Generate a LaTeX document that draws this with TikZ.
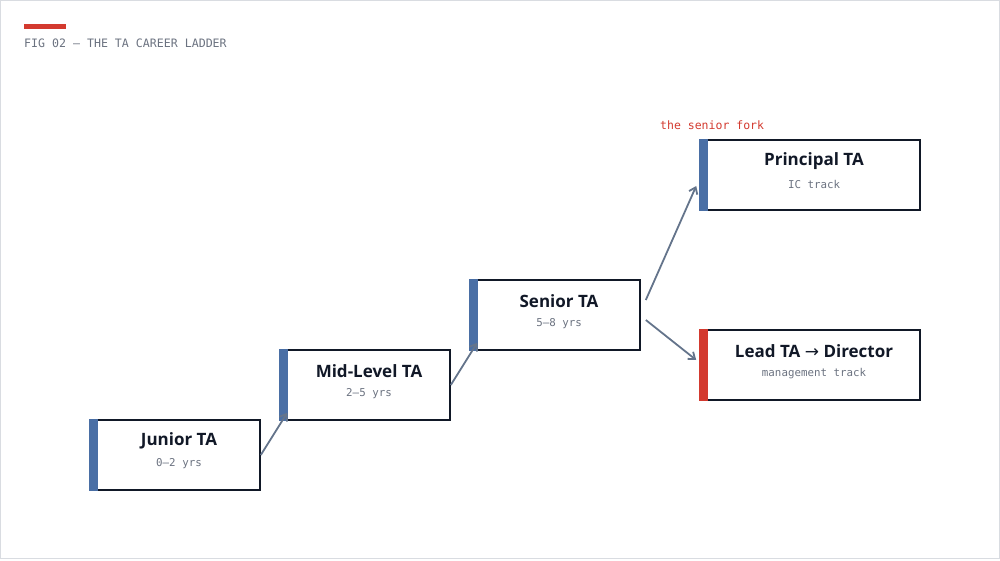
\documentclass[tikz,border=0pt]{standalone}
\usepackage{fontspec}
\setmainfont{Open Sans}
\newfontfamily\monof{DejaVu Sans Mono}
\usetikzlibrary{arrows.meta}
\definecolor{inkc}{HTML}{111827}
\definecolor{barblue}{HTML}{4A6FA5}
\definecolor{barred}{HTML}{D33A2F}
\definecolor{connc}{HTML}{64748B}
\definecolor{subc}{HTML}{6B7280}
\definecolor{framec}{HTML}{D9DCE1}
\begin{document}
\begin{tikzpicture}[x=1pt,y=1pt,
  stage/.style={draw=inkc,line width=1.6pt,fill=white,minimum height=70pt,inner sep=0pt},
  ttl/.style={font=\fontsize{17}{19}\selectfont\bfseries,text=inkc,anchor=center},
  sub/.style={font=\monof\fontsize{10.8}{12}\selectfont,text=subc,anchor=center},
  conn/.style={draw=connc,line width=1.8pt,-{Straight Barb[length=6pt,width=9pt]}}]
\useasboundingbox (0,0) rectangle (1000,560);
\draw[framec,line width=1pt] (0.5,1.5) rectangle (999.5,559.5);
% header
\fill[barred] (24,531) rectangle (66,536);
\node[anchor=base west,inner sep=0pt,font=\monof\fontsize{11.6}{13}\selectfont,text=subc] (hdr) at (24,512) {FIG 02 — THE TA CAREER LADDER};
% boxes
\node[stage,minimum width=170pt] (junior) at (175,105) {};
\node[stage,minimum width=170pt] (mid) at (365,175) {};
\node[stage,minimum width=170pt] (senior) at (555,245) {};
\node[stage,minimum width=220pt] (principal) at (810,385) {};
\node[stage,minimum width=220pt] (lead) at (810,195) {};
% bars
\fill[barblue] (89.2,69.2) rectangle (98,140.8);
\fill[barblue] (279.2,139.2) rectangle (288,210.8);
\fill[barblue] (469.2,209.2) rectangle (478,280.8);
\fill[barblue] (699.2,349.2) rectangle (708,420.8);
\fill[barred] (699.2,159.2) rectangle (708,230.8);
% texts
\node[ttl] (juniort) at (179,119) {Junior TA};
\node[sub] (juniors) at (179,96) {0–2 yrs};
\node[ttl] (midt) at (369,189) {Mid-Level TA};
\node[sub] (mids) at (369,166) {2–5 yrs};
\node[ttl] (seniort) at (559,259) {Senior TA};
\node[sub] (seniors) at (559,236) {5–8 yrs};
\node[ttl] (principalt) at (814,399) {Principal TA};
\node[sub] (principals) at (814,376) {IC track};
\node[ttl] (leadt) at (814,209) {Lead TA {\fontspec{DejaVu Sans}\mdseries →} Director};
\node[sub] (leads) at (814,186) {management track};
\node[anchor=base west,inner sep=0pt,font=\monof\fontsize{11.5}{13}\selectfont,text=barred] (fork) at (660,430) {the senior fork};
% connectors
\draw[conn] (junior.east) -- ([shift={(8,8)}]mid.south west);
\draw[conn] (mid.east) -- ([shift={(8,8)}]senior.south west);
\draw[conn] ([shift={(5,15)}]senior.east) -- ([shift={(-3,-11)}]principal.west);
\draw[conn] ([shift={(5,-5)}]senior.east) -- ([shift={(-3,5)}]lead.west);
\end{tikzpicture}
\end{document}
